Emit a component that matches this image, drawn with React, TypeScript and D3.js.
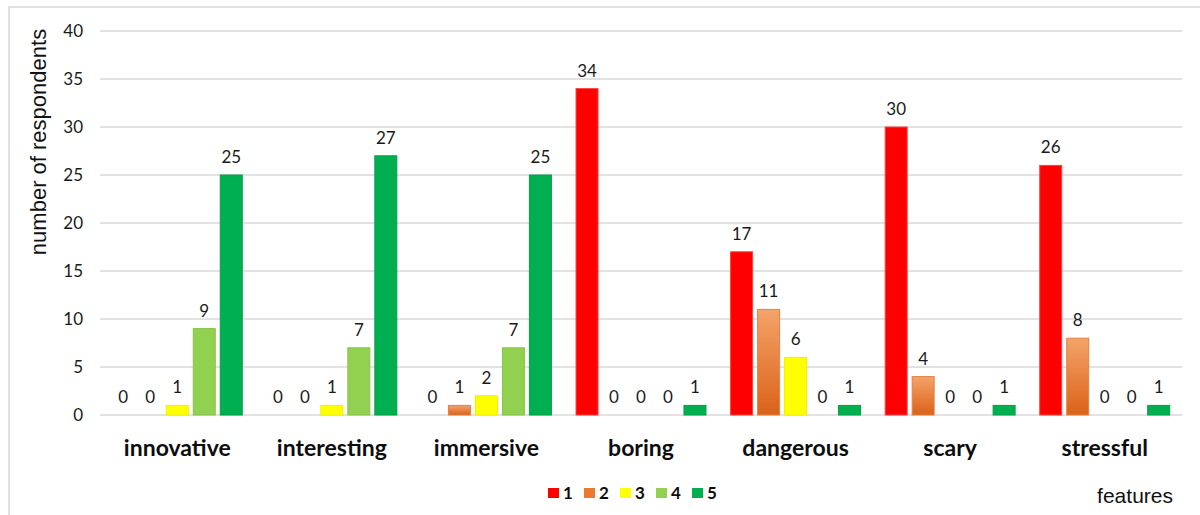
import React from "react";
import { scaleBand, scaleLinear } from "d3";

const categories = ["innovative", "interesting", "immersive", "boring", "dangerous", "scary", "stressful"];
const seriesNames = ["1", "2", "3", "4", "5"];
const rating1 = [0, 0, 0, 34, 17, 30, 26];
const rating2 = [0, 0, 1, 0, 11, 4, 8];
const rating3 = [1, 1, 2, 0, 6, 0, 0];
const rating4 = [9, 7, 7, 0, 0, 0, 0];
const rating5 = [25, 27, 25, 1, 1, 1, 1];
const yTicks = [0, 5, 10, 15, 20, 25, 30, 35, 40];

const seriesValues = [rating1, rating2, rating3, rating4, rating5];
const fills = ["#FF0000", "url(#orangeGrad)", "#FFFF00", "#92D050", "#00B050"];
const strokes = ["#FF4040", "#E88040", "#F0F000", "#86C448", "#00A048"];
const legendFills = ["#FF0000", "#E97A30", "#FFFF00", "#92D050", "#00B050"];

const W = 1200;
const H = 515;
const margin = { top: 31, right: 18, bottom: 100, left: 100 };
const FONT = "Lato, 'Open Sans', sans-serif";

export default function App() {
  const x0 = scaleBand<string>()
    .domain(categories)
    .range([margin.left, W - margin.right])
    .paddingInner(0.127)
    .paddingOuter(0.0635);

  const x1 = scaleBand<string>()
    .domain(seriesNames)
    .range([0, x0.bandwidth()])
    .paddingInner(0.185)
    .paddingOuter(0.0925);

  const y = scaleLinear().domain([0, 40]).range([415, 31]);

  return (
    <svg
      width={W}
      height={H}
      style={{ position: "absolute", left: 0, top: 0, background: "#fff" }}
    >
      <defs>
        <linearGradient id="orangeGrad" x1="0" y1="0" x2="0" y2="1">
          <stop offset="0%" stopColor="#F4A36A" />
          <stop offset="100%" stopColor="#DA6218" />
        </linearGradient>
      </defs>
      {/* outer frame */}
      <rect x={9} y={7} width={1300} height={600} fill="none" stroke="#D9D9D9" strokeWidth={1.5} />

      {/* grid */}
      {yTicks.map((t) => (
        <g key={t}>
          <line
            x1={margin.left}
            x2={W - margin.right}
            y1={y(t)}
            y2={y(t)}
            stroke="#D9D9D9"
            strokeWidth={1.5}
          />
          <text
            x={83}
            y={y(t)}
            dy="0.35em"
            textAnchor="end"
            fontFamily={FONT}
            fontSize={17}
            fill="#1a1a1a"
          >
            {t}
          </text>
        </g>
      ))}

      <text
        transform={`translate(46,142) rotate(-90)`}
        textAnchor="middle"
        fontFamily="'Liberation Sans', Arial, sans-serif"
        fontSize={22}
        fill="#111"
      >
        number of respondents
      </text>

      {/* bars */}
      {categories.map((c, ci) => (
        <g key={c} transform={`translate(${x0(c)},0)`}>
          {seriesNames.map((s, si) => {
            const v = seriesValues[si][ci];
            const bx = x1(s) as number;
            return (
              <g key={s}>
                {v > 0 && (
                  <rect
                    x={bx}
                    y={y(v)}
                    width={x1.bandwidth()}
                    height={y(0) - y(v)}
                    fill={fills[si]}
                    stroke={strokes[si]}
                    strokeWidth={1}
                  />
                )}
                <text
                  x={bx + x1.bandwidth() / 2}
                  y={y(v) - 12}
                  textAnchor="middle"
                  fontFamily={FONT}
                  fontSize={17}
                  fill="#1a1a1a"
                >
                  {v}
                </text>
              </g>
            );
          })}
          <text
            x={x0.bandwidth() / 2}
            y={456}
            textAnchor="middle"
            fontFamily={FONT}
            fontWeight="bold"
            fontSize={23}
            fill="#0d0d0d"
          >
            {c}
          </text>
        </g>
      ))}

      {/* legend */}
      {seriesNames.map((s, si) => (
        <g key={s} transform={`translate(${548 + si * 36},488)`}>
          <rect width={11} height={10} fill={legendFills[si]} />
          <text x={15} y={10.5} fontFamily={FONT} fontWeight="bold" fontSize={17} fill="#0d0d0d">
            {s}
          </text>
        </g>
      ))}

      <text
        x={1173}
        y={503}
        textAnchor="end"
        fontFamily="'Liberation Sans', Arial, sans-serif"
        fontSize={21}
        fill="#111"
      >
        features
      </text>
    </svg>
  );
}
